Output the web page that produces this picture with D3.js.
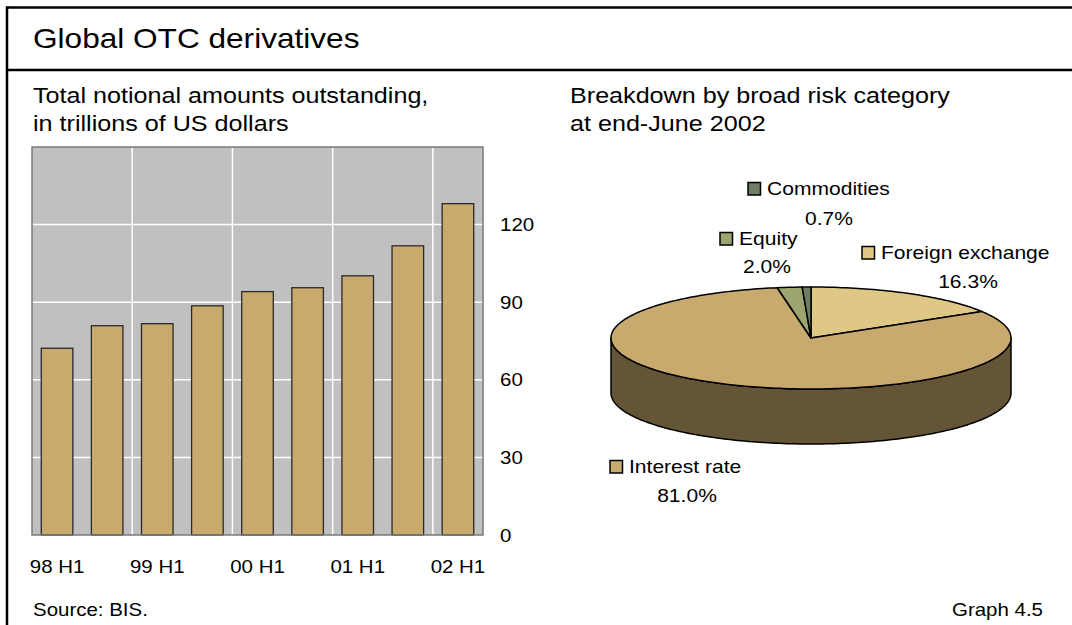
<!DOCTYPE html>
<html>
<head>
<meta charset="utf-8">
<script src="https://cdn.jsdelivr.net/npm/d3@7"></script>
<style>
  body { margin: 0; background: #fff; }
  svg { display: block; font-family: "Liberation Sans", Arial, sans-serif; fill: #000; }
</style>
</head>
<body>
<svg id="main-svg" width="1072" height="625"></svg>
<script>
/////////////////////
// DATA            //
/////////////////////
var periods = ["98 H1", "98 H2", "99 H1", "99 H2", "00 H1", "00 H2", "01 H1", "01 H2", "02 H1"];
var totals = [72.2, 80.9, 81.7, 88.6, 94.1, 95.6, 100.2, 111.8, 128.1];
var yTicks = [0, 30, 60, 90, 120];
var riskCategories = ["Foreign exchange", "Interest rate", "Equity", "Commodities"];
var riskShares = [16.3, 81.0, 2.0, 0.7];
var riskLabels = ["16.3%", "81.0%", "2.0%", "0.7%"];

// Colours
var barColor = "#c8aa6e";
var riskColors = ["#dfc886", "#c8aa6e", "#9ca46f", "#6e7d64"];

// The original picture is a bit wider than tall, so text gets stretched
var stretch = 1.17;

var canvas = d3.select('#main-svg');

drawFrame();
drawBars();
drawPie();

/////////////////////
// FUNCTIONS       //
/////////////////////
function addText(g, str, x, y, size, anchor) {
  return g.append('text')
    .attr('transform', `translate(${x},${y}) scale(${stretch},1)`)
    .attr('font-size', size)
    .attr('text-anchor', anchor || 'start')
    .text(str);
}

function drawFrame() {
  var frame = canvas.append('g').attr('id', 'frame')
    .style('stroke', '#000').style('stroke-width', 2.5);
  frame.append('line').attr('x1', 6).attr('x2', 1072).attr('y1', 7.5).attr('y2', 7.5);
  frame.append('line').attr('x1', 7).attr('x2', 7).attr('y1', 6.5).attr('y2', 625);
  frame.append('line').attr('x1', 6).attr('x2', 1072).attr('y1', 70).attr('y2', 70);

  addText(canvas, "Global OTC derivatives", 33, 48, 27);
  addText(canvas, "Total notional amounts outstanding,", 33, 103, 21.5);
  addText(canvas, "in trillions of US dollars", 33, 131, 21.5);
  addText(canvas, "Breakdown by broad risk category", 570, 103, 21.5);
  addText(canvas, "at end-June 2002", 570, 131, 21.5);
  addText(canvas, "Source: BIS.", 33, 616, 17.5);
  addText(canvas, "Graph 4.5", 1043, 616, 17.5, 'end');
}

function drawBars() {
  var left = 32, right = 483, top = 147, bottom = 535;

  var x = d3.scaleBand().domain(periods).range([left, right])
    .paddingInner(0.37).paddingOuter(0.185);
  var y = d3.scaleLinear().domain([0, 150]).range([bottom, top]);

  var g = canvas.append('g').attr('id', 'bars');

  // grey background
  g.append('rect')
    .attr('x', left).attr('y', top)
    .attr('width', right - left).attr('height', bottom - top)
    .style('fill', '#c0c0c0');

  // white grid lines
  g.selectAll('.hgrid').data(yTicks.filter((d) => d > 0)).enter()
    .append('line').attr('class', 'hgrid')
    .attr('x1', left).attr('x2', right)
    .attr('y1', (d) => y(d)).attr('y2', (d) => y(d))
    .style('stroke', '#fff').style('stroke-width', 1.5);

  var yearStarts = periods.filter((p, i) => i > 0 && p.endsWith('H1'));
  g.selectAll('.vgrid').data(yearStarts).enter()
    .append('line').attr('class', 'vgrid')
    .attr('x1', (d) => x(d) - x.step() * x.paddingOuter())
    .attr('x2', (d) => x(d) - x.step() * x.paddingOuter())
    .attr('y1', top).attr('y2', bottom)
    .style('stroke', '#fff').style('stroke-width', 1.5);

  // the bars
  g.selectAll('.bar').data(totals).enter()
    .append('rect').attr('class', 'bar')
    .attr('x', (d, i) => x(periods[i]))
    .attr('y', (d) => y(d))
    .attr('width', x.bandwidth())
    .attr('height', (d) => y(0) - y(d))
    .style('fill', barColor)
    .style('stroke', '#2a2a2a')
    .style('stroke-width', 1.3);

  // plot border
  g.append('rect')
    .attr('x', left).attr('y', top)
    .attr('width', right - left).attr('height', bottom - top)
    .style('fill', 'none')
    .style('stroke', '#7a7a7a').style('stroke-width', 1.5);

  // y axis on the right
  var yAxis = g.append('g').attr('transform', `translate(${right},0)`)
    .call(d3.axisRight(y).tickValues(yTicks).tickSize(0).tickPadding(0));
  yAxis.select('.domain').remove();
  yAxis.selectAll('text')
    .attr('x', null).attr('dy', '0.35em')
    .attr('transform', `translate(17,0) scale(${stretch},1)`)
    .attr('font-size', 17.5).attr('font-family', null)
    .style('fill', '#000');

  // x axis
  var xAxis = g.append('g').attr('transform', `translate(0,${bottom})`)
    .call(d3.axisBottom(x).tickValues(periods.filter((p) => p.endsWith('H1'))).tickSize(0));
  xAxis.select('.domain').remove();
  xAxis.selectAll('text')
    .attr('y', 0).attr('dy', 0)
    .attr('transform', `translate(0,38) scale(${stretch},1)`)
    .attr('font-size', 17.5).attr('font-family', null)
    .style('fill', '#000');
}

function drawPie() {
  var cx = 811, cy = 338, rx = 200, ry = 51, depth = 55;

  var pie = d3.pie().sort(null).value((d) => d);
  var arcs = pie(riskShares);

  var pt = (a, dy) => [cx + rx * Math.sin(a), cy - ry * Math.cos(a) + (dy || 0)];
  var arcPoints = (a0, a1, dy) => {
    var n = Math.max(2, Math.ceil((a1 - a0) / 0.02));
    return d3.range(n + 1).map((k) => pt(a0 + (a1 - a0) * k / n, dy));
  };

  var g = canvas.append('g').attr('id', 'pie');

  // side walls, only the front half can be seen
  arcs.forEach((d, i) => {
    var a0 = Math.max(d.startAngle, Math.PI / 2);
    var a1 = Math.min(d.endAngle, 3 * Math.PI / 2);
    if (a0 >= a1) return;
    var pts = arcPoints(a0, a1, 0).concat(arcPoints(a0, a1, depth).reverse());
    g.append('path')
      .attr('d', 'M' + pts.map((p) => p.join(',')).join('L') + 'Z')
      .style('fill', d3.color(riskColors[i]).darker(1.95))
      .style('stroke', '#000').style('stroke-width', 1.5)
      .style('stroke-linejoin', 'round');
  });

  // top slices
  g.selectAll('.slice').data(arcs).enter()
    .append('path').attr('class', 'slice')
    .attr('d', (d) => {
      var pts = [[cx, cy]].concat(arcPoints(d.startAngle, d.endAngle, 0));
      return 'M' + pts.map((p) => p.join(',')).join('L') + 'Z';
    })
    .style('fill', (d, i) => riskColors[i])
    .style('stroke', '#000').style('stroke-width', 1.5)
    .style('stroke-linejoin', 'round');

  // labels: [square left, name baseline, value centre, value baseline]
  var labelPos = [
    [862, 259, 968, 288],
    [610, 473, 687, 502],
    [720, 245, 767, 273],
    [748, 195, 829, 225]
  ];
  var labels = g.append('g').attr('id', 'pie-labels');
  riskCategories.forEach((name, i) => {
    var p = labelPos[i];
    labels.append('rect')
      .attr('x', p[0]).attr('y', p[1] - 12.5)
      .attr('width', 12.5).attr('height', 12.5)
      .style('fill', riskColors[i])
      .style('stroke', '#000').style('stroke-width', 1.5);
    addText(labels, name, p[0] + 19, p[1], 18);
    addText(labels, riskLabels[i], p[2], p[3], 18, 'middle');
  });
}
</script>
</body>
</html>
